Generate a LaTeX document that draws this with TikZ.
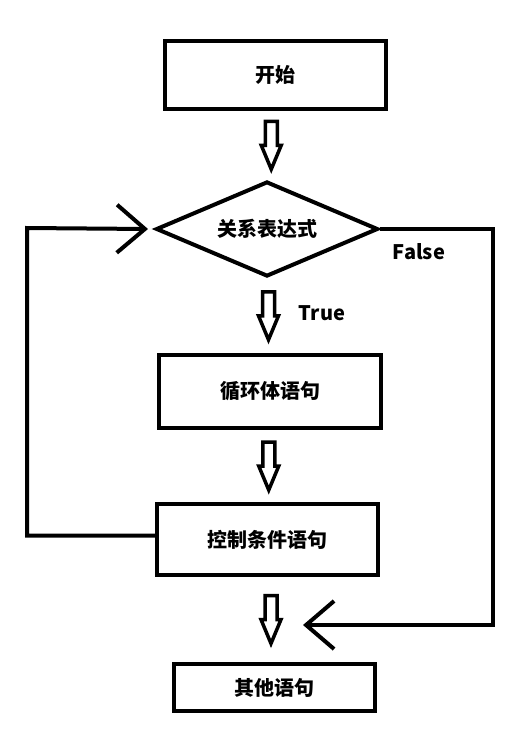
\documentclass[tikz,border=0pt]{standalone}
\usepackage{fontspec}
\newfontfamily\cjk{Noto Sans CJK SC}
\usetikzlibrary{shapes.geometric, arrows.meta, calc}

\newcommand{\flowfont}{\cjk\bfseries\fontsize{20}{24}\selectfont}

\tikzset{
  box/.style={rectangle, draw, line width=4pt, inner sep=0pt, font=\flowfont},
  decision/.style={diamond, aspect=2.34, draw, line width=4pt, inner sep=0pt, font=\flowfont},
  tag/.style={inner sep=0pt, font=\flowfont},
  hollow/.style={line width=3.5pt, line join=miter, to path={
    ($(\tikztostart.south)!0.5!(\tikztotarget.north)+(-6,-24)$) -- ++(12,0) -- ++(0,24)
    -- ++(4,0) -- ++(-10,24) -- ++(-10,-24) -- ++(4,0) -- cycle}},
  back/.style={line width=4pt, line join=miter, -{Straight Barb[length=28pt, width=48pt]}}
}

\begin{document}
\begin{tikzpicture}[x=1pt, y=-1pt]
  \useasboundingbox (0,0) rectangle (532,732);

  \node[box, minimum width=221pt, minimum height=68pt] (start) at (275.5,75) {开始};
  \node[decision, minimum width=222pt, minimum height=95pt] (cond) at (267,229) {关系表达式};
  \node[box, minimum width=222pt, minimum height=73pt] (body) at (270,391.5) {循环体语句};
  \node[box, minimum width=221pt, minimum height=71pt] (ctrl) at (267.5,539.5) {控制条件语句};
  \node[box, minimum width=201pt, minimum height=47pt] (other) at (274.5,687.5) {其他语句};

  \node[tag] (false) at (419,252) {False};
  \node[tag] (true) at (322,313) {True};

  % hollow arrows between the blocks
  \draw[hollow] (start) to (cond);
  \draw[hollow] (cond) to (body);
  \draw[hollow] (body) to (ctrl);
  \draw[hollow] (ctrl) to (other);

  % loop back and exit
  \coordinate (lcorner) at (27,228);
  \coordinate (rcorner) at (493,625);
  \coordinate (merge) at (303,625);
  \draw[back] ($(ctrl.west)+(0,-4)$) -| (lcorner) -- ($(cond.west)+(-6,0)$);
  \draw[back] (cond.east) -| (rcorner) -- (merge);
\end{tikzpicture}
\end{document}
